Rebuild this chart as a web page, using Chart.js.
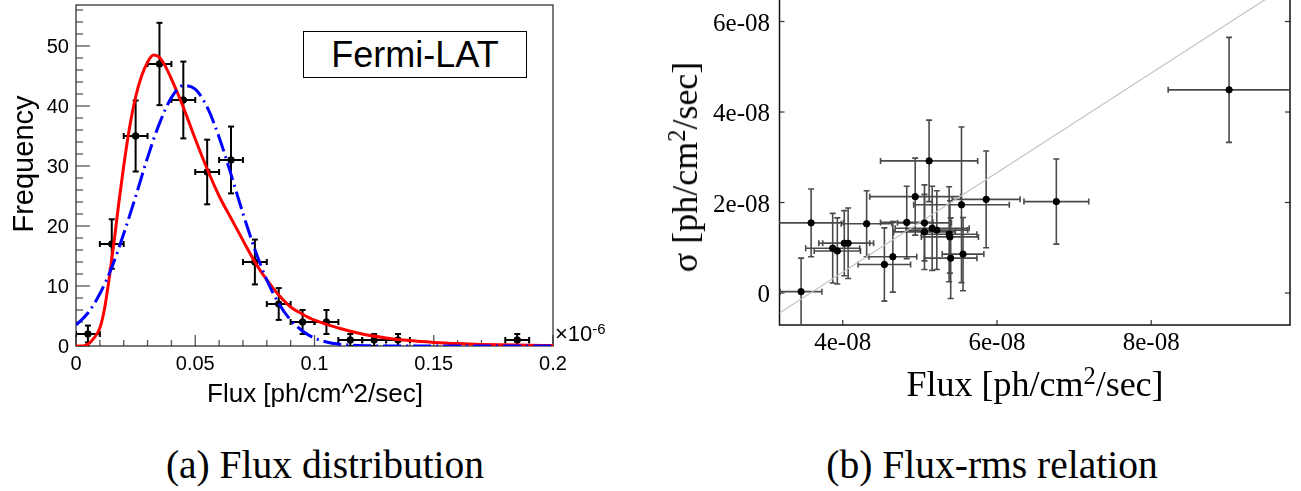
<!DOCTYPE html>
<html>
<head>
<meta charset="utf-8">
<script src="https://cdn.jsdelivr.net/npm/chart.js@4/dist/chart.umd.min.js"></script>
<style>
  html, body { margin: 0; padding: 0; background: #fff; }
  #page { position: relative; width: 1301px; height: 491px; overflow: hidden; background: #fff; }
  .cv { position: absolute; }
  .txt { position: absolute; white-space: nowrap; line-height: 1; color: #000; }
  .sans { font-family: "Liberation Sans", Arial, sans-serif; }
  .serif { font-family: "Liberation Serif", "Times New Roman", "DejaVu Serif", serif; }
  .c { transform: translate(-50%, -50%); }
  .r { transform: translate(-100%, -50%); }
  .rot { transform: translate(-50%, -50%) rotate(-90deg); }
  .sup { font-size: 0.68em; position: relative; top: -0.5em; }
  #legend {
    left: 303px; top: 31px; width: 222px; height: 45px;
    border: 1.5px solid #000; background: #fff; font-size: 36px;
    display: flex; align-items: center; justify-content: center;
  }
</style>
</head>
<body>
<div id="page">
  <div class="cv" style="left:0; top:0;"><canvas id="chart-flux" width="620" height="420"></canvas></div>
  <div class="cv" style="left:680px; top:-40px;"><canvas id="chart-rms" width="621" height="420"></canvas></div>

  <div id="legend" class="txt sans">Fermi-LAT</div>
  <div class="txt sans rot" style="left:23px; top:164px; font-size:29px;">Frequency</div>
  <div class="txt sans c" style="left:315px; top:393px; font-size:26px;">Flux [ph/cm^2/sec]</div>
  <div class="txt sans" style="left:555px; top:323px; font-size:22px;">&times;10<span class="sup">-6</span></div>

  <div class="txt serif rot" style="left:685px; top:167px; font-size:36px;">&sigma; [ph/cm<span class="sup">2</span>/sec]</div>
  <div class="txt serif c" style="left:1035px; top:384px; font-size:36px;">Flux [ph/cm<span class="sup">2</span>/sec]</div>

  <div class="txt serif c" style="left:325px; top:466px; font-size:39.5px;">(a) Flux distribution</div>
  <div class="txt serif c" style="left:992px; top:466px; font-size:39.5px;">(b) Flux-rms relation</div>
</div>

<script>
/* ── Panel (a): flux histogram (x in 1e-6 ph/cm^2/sec) ── */
const binCenters = [0.005, 0.015, 0.025, 0.035, 0.045, 0.055, 0.065, 0.075, 0.085, 0.095, 0.105, 0.115, 0.125, 0.135, 0.185];
const binCounts  = [2, 17, 35, 47, 41, 29, 31, 14, 7, 4, 4, 1, 1, 1, 1];
const binErrX    = [0.005, 0.005, 0.005, 0.005, 0.005, 0.005, 0.005, 0.005, 0.005, 0.005, 0.005, 0.005, 0.005, 0.005, 0.005];
const binErrY    = [1.41, 4.12, 5.92, 6.86, 6.40, 5.39, 5.57, 3.74, 2.65, 2.0, 2.0, 1.0, 1.0, 1.0, 1.0];

/* red solid fit */
const redFitX = [0, 0.003, 0.005, 0.0075, 0.01, 0.012, 0.014, 0.016, 0.018, 0.02, 0.0225, 0.025, 0.0275, 0.03, 0.0325,
                 0.035, 0.0375, 0.04, 0.045, 0.05, 0.055, 0.06, 0.065, 0.07, 0.075, 0.08, 0.085, 0.09, 0.095, 0.1,
                 0.11, 0.12, 0.13, 0.14, 0.15, 0.16, 0.17, 0.185, 0.2];
const redFitY = [0, 0.02, 0.3, 1.3, 3.0, 6.3, 11.5, 17.5, 24, 30, 36.5, 41.5, 45, 47.3, 48.5,
                 48.1, 46.6, 44.5, 39.8, 34.5, 29.5, 25.0, 21.3, 17.6, 14.0, 11.0, 8.5, 6.5, 5.3, 4.3,
                 3.0, 2.0, 1.35, 0.9, 0.6, 0.4, 0.27, 0.15, 0.08];

/* blue dash-dot fit */
const blueFitX = [0, 0.005, 0.01, 0.015, 0.02, 0.025, 0.03, 0.035, 0.04, 0.045, 0.05, 0.055, 0.06, 0.065, 0.07,
                  0.075, 0.08, 0.085, 0.09, 0.095, 0.1, 0.105, 0.11, 0.12, 0.13, 0.2];
const blueFitY = [3.5, 5.5, 8.7, 13.1, 18.7, 24.9, 31.4, 37.1, 41.4, 43.4, 42.8, 39.8, 34.8, 28.6, 22.1,
                  16.1, 11.0, 7.1, 4.3, 2.5, 1.3, 0.67, 0.32, 0.06, 0.01, 0];

const fluxTickVals   = [0, 0.05, 0.1, 0.15, 0.2];
const fluxTickLabels = ['0', '0.05', '0.1', '0.15', '0.2'];
const fluxMinorTicks = [0.01, 0.02, 0.03, 0.04, 0.06, 0.07, 0.08, 0.09, 0.11, 0.12, 0.13, 0.14, 0.16, 0.17, 0.18, 0.19];
const freqTickVals   = [0, 10, 20, 30, 40, 50];
const freqTickLabels = ['0', '10', '20', '30', '40', '50'];
const freqMinorTicks = [2, 4, 6, 8, 12, 14, 16, 18, 22, 24, 26, 28, 32, 34, 36, 38, 42, 44, 46, 48, 52, 54, 56];

/* ── Panel (b): flux vs sigma (both in 1e-8 ph/cm^2/sec) ── */
const rmsFlux     = [3.46, 3.59, 3.87, 3.93, 4.02, 4.07, 4.31, 4.54, 4.65, 4.83, 4.94, 5.12,
                     5.06, 5.06, 5.16, 5.22, 5.38, 5.39, 5.40, 5.54, 5.56, 5.86, 6.77, 9.01];
const rmsSigma    = [0.03, 1.55, 0.99, 0.93, 1.10, 1.10, 1.53, 0.63, 0.80, 1.56, 2.13, 2.92,
                     1.55, 1.35, 1.43, 1.39, 1.30, 1.24, 0.77, 1.95, 0.86, 2.07, 2.02, 4.49];
const rmsFluxErr  = [0.27, 0.42, 0.35, 0.30, 0.33, 0.33, 0.33, 0.34, 0.31, 0.34, 0.59, 0.63,
                     0.35, 0.40, 0.48, 0.40, 0.36, 0.37, 0.34, 0.62, 0.27, 0.44, 0.42, 0.79];
const rmsSigmaErr = [0.74, 0.75, 0.77, 0.73, 0.72, 0.78, 0.73, 0.81, 0.78, 0.80, 0.85, 0.90,
                     0.84, 0.83, 0.93, 0.87, 1.05, 0.80, 0.89, 1.72, 0.81, 1.07, 0.94, 1.16];
const trendX = [3.18, 9.8];
const trendY = [-0.44, 6.84];

const rmsXTickVals   = [4, 6, 8];
const rmsXTickLabels = ['4e-08', '6e-08', '8e-08'];
const rmsYTickVals   = [0, 2, 4, 6];
const rmsYTickLabels = ['0', '2e-08', '4e-08', '6e-08'];

/* ── helpers ── */
const pts = (xs, ys) => xs.map((x, i) => ({ x, y: ys[i] }));

function seg(ctx, x1, y1, x2, y2) {
  ctx.beginPath();
  ctx.moveTo(x1, y1);
  ctx.lineTo(x2, y2);
  ctx.stroke();
}

/* ROOT-style frame with inward ticks */
const rootFrame = {
  id: 'rootFrame',
  beforeDatasetsDraw(chart, _args, o) {
    const { ctx, chartArea: a, scales: { x, y } } = chart;
    ctx.save();
    ctx.strokeStyle = o.tickColor;
    ctx.lineWidth = o.tickWidth;
    const xt = (vals, len) => vals.forEach(v => {
      const p = x.getPixelForValue(v);
      seg(ctx, p, a.bottom, p, a.bottom - len);
    });
    const yt = (vals, len) => vals.forEach(v => {
      const p = y.getPixelForValue(v);
      seg(ctx, a.left, p, a.left + len, p);
      if (o.mirrorY) seg(ctx, a.right, p, a.right - len, p);
    });
    xt(o.xMajor, o.xMajorLen);
    xt(o.xMinor, o.xMinorLen);
    yt(o.yMajor, o.yMajorLen);
    yt(o.yMinor, o.yMinorLen);
    ctx.strokeStyle = o.frameColor;
    ctx.lineWidth = o.frameWidth;
    ctx.strokeRect(a.left, a.top, a.right - a.left, a.bottom - a.top);
    ctx.restore();
  }
};

/* x/y error bars with end caps, drawn under the markers */
const errorBars = {
  id: 'errorBars',
  beforeDatasetsDraw(chart, _args, o) {
    const { ctx, chartArea: a, scales: { x, y } } = chart;
    ctx.save();
    ctx.beginPath();
    ctx.rect(a.left, a.top, a.right - a.left, a.bottom - a.top);
    ctx.clip();
    ctx.strokeStyle = o.color;
    ctx.lineWidth = o.width;
    chart.data.datasets.forEach(ds => {
      if (!ds.errX) return;
      ds.data.forEach((p, i) => {
        const cx = x.getPixelForValue(p.x), cy = y.getPixelForValue(p.y);
        const xl = x.getPixelForValue(p.x - ds.errX[i]), xr = x.getPixelForValue(p.x + ds.errX[i]);
        const yt = y.getPixelForValue(p.y + ds.errY[i]), yb = y.getPixelForValue(p.y - ds.errY[i]);
        seg(ctx, xl, cy, xr, cy);
        seg(ctx, cx, yt, cx, yb);
        seg(ctx, xl, cy - o.cap, xl, cy + o.cap);
        seg(ctx, xr, cy - o.cap, xr, cy + o.cap);
        seg(ctx, cx - o.cap, yt, cx + o.cap, yt);
        seg(ctx, cx - o.cap, yb, cx + o.cap, yb);
      });
    });
    ctx.restore();
  }
};

/* tick labels as page text, positioned from the chart's own scales */
function placeTickLabels(chart, off, cfg) {
  const page = document.getElementById('page');
  const { chartArea: a, scales: { x, y } } = chart;
  const add = (text, left, top, cls) => {
    const d = document.createElement('div');
    d.className = 'txt ' + cfg.family + ' ' + cls;
    d.style.left = left + 'px';
    d.style.top = top + 'px';
    d.style.fontSize = cfg.size + 'px';
    d.textContent = text;
    page.appendChild(d);
  };
  cfg.xVals.forEach((v, i) => add(cfg.xLabels[i], off.left + x.getPixelForValue(v), off.top + a.bottom + cfg.xDrop, 'c'));
  cfg.yVals.forEach((v, i) => add(cfg.yLabels[i], off.left + a.left - cfg.yGap, off.top + y.getPixelForValue(v), 'r'));
}

/* pin axis boxes so the plot frames land where the reference has them */
const fitX = h => s => { s.height = h; s.paddingLeft = 0; s.paddingRight = 0; };
const fitY = w => s => { s.width = w; s.paddingTop = 0; s.paddingBottom = 0; };
const hiddenAxis = { grid: { display: false, drawTicks: false }, border: { display: false }, ticks: { display: false } };

/* ── Panel (a) ── */
const fluxChart = new Chart(document.getElementById('chart-flux'), {
  type: 'scatter',
  data: {
    datasets: [
      {
        label: 'Gaussian fit',
        data: pts(blueFitX, blueFitY),
        showLine: true,
        borderColor: '#0000ff',
        borderWidth: 3,
        borderDash: [18, 5, 2, 5],
        pointRadius: 0,
        cubicInterpolationMode: 'monotone'
      },
      {
        label: 'Fit',
        data: pts(redFitX, redFitY),
        showLine: true,
        borderColor: '#ff0000',
        borderWidth: 3,
        pointRadius: 0,
        cubicInterpolationMode: 'monotone'
      },
      {
        label: 'Frequency',
        data: pts(binCenters, binCounts),
        errX: binErrX,
        errY: binErrY,
        pointRadius: 3.3,
        backgroundColor: '#000',
        borderColor: '#000'
      }
    ]
  },
  options: {
    responsive: false,
    animation: false,
    devicePixelRatio: 1,
    layout: { padding: { top: 5, right: 67, left: 0, bottom: 0 } },
    plugins: {
      legend: { display: false },
      tooltip: { enabled: false },
      rootFrame: {
        frameColor: '#222', frameWidth: 1.2, tickColor: '#555', tickWidth: 1.3,
        xMajor: fluxTickVals, xMinor: fluxMinorTicks, xMajorLen: 11, xMinorLen: 6,
        yMajor: freqTickVals, yMinor: freqMinorTicks, yMajorLen: 14, yMinorLen: 7,
        mirrorY: false
      },
      errorBars: { color: '#000', width: 2, cap: 3 }
    },
    scales: {
      x: { type: 'linear', min: 0, max: 0.2, afterFit: fitX(74), ...hiddenAxis },
      y: { type: 'linear', min: 0, max: 56.83, afterFit: fitY(76), ...hiddenAxis }
    }
  },
  plugins: [rootFrame, errorBars]
});

placeTickLabels(fluxChart, { left: 0, top: 0 }, {
  family: 'sans', size: 20,
  xVals: fluxTickVals, xLabels: fluxTickLabels, xDrop: 17,
  yVals: freqTickVals, yLabels: freqTickLabels, yGap: 7
});

/* ── Panel (b) ── */
const rmsChart = new Chart(document.getElementById('chart-rms'), {
  type: 'scatter',
  data: {
    datasets: [
      {
        label: 'sigma',
        data: pts(rmsFlux, rmsSigma),
        errX: rmsFluxErr,
        errY: rmsSigmaErr,
        pointRadius: 3.2,
        backgroundColor: '#000',
        borderColor: '#000'
      },
      {
        label: 'trend',
        data: pts(trendX, trendY),
        showLine: true,
        borderColor: '#c4c4c4',
        borderWidth: 1.2,
        pointRadius: 0
      }
    ]
  },
  options: {
    responsive: false,
    animation: false,
    devicePixelRatio: 1,
    layout: { padding: { top: 16, right: 11, left: 0, bottom: 0 } },
    plugins: {
      legend: { display: false },
      tooltip: { enabled: false },
      rootFrame: {
        frameColor: '#111', frameWidth: 1.5, tickColor: '#333', tickWidth: 1.2,
        xMajor: rmsXTickVals, xMinor: [], xMajorLen: 5, xMinorLen: 0,
        yMajor: rmsYTickVals, yMinor: [], yMajorLen: 5, yMinorLen: 0,
        mirrorY: true
      },
      errorBars: { color: '#4a4a4a', width: 1.6, cap: 3 }
    },
    scales: {
      x: { type: 'linear', min: 3.18, max: 9.8, afterFit: fitX(55), ...hiddenAxis },
      y: { type: 'linear', min: -0.707, max: 7.006, afterFit: fitY(99.5), ...hiddenAxis }
    }
  },
  plugins: [rootFrame, errorBars]
});

placeTickLabels(rmsChart, { left: 680, top: -40 }, {
  family: 'serif', size: 25,
  xVals: rmsXTickVals, xLabels: rmsXTickLabels, xDrop: 16,
  yVals: rmsYTickVals, yLabels: rmsYTickLabels, yGap: 9.5
});
</script>
</body>
</html>
